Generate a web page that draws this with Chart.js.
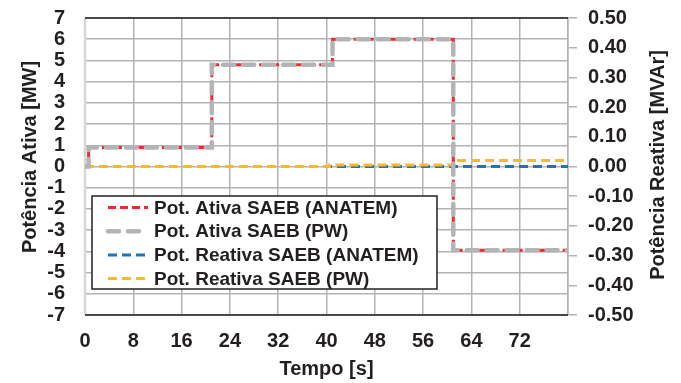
<!DOCTYPE html>
<html>
<head>
<meta charset="utf-8">
<script src="https://cdn.jsdelivr.net/npm/chart.js@4.4.1/dist/chart.umd.min.js"></script>
<style>
html, body { margin: 0; padding: 0; background: #fff; }
#wrap { width: 681px; height: 383px; }
</style>
</head>
<body>
<div id="wrap"><canvas id="grafico"></canvas></div>
<script>
var tempo_ativa = [0, 0.6, 21, 41, 61, 80];
var ativa_anatem = [0, 0.9, 4.8, 6.0, -3.95, -3.95];
var ativa_pw = [0, 0.9, 4.8, 6.0, -3.95, -3.95];
var tempo_reat_anatem = [0, 80];
var reativa_anatem = [0, 0];
var tempo_reat_pw = [0, 40.5, 61, 80];
var reativa_pw = [0, 0.005, 0.02, 0.02];
var nomes = ['Pot. Ativa SAEB (ANATEM)', 'Pot. Ativa SAEB (PW)', 'Pot. Reativa SAEB (ANATEM)', 'Pot. Reativa SAEB (PW)'];
var titulo_x = 'Tempo [s]';
var titulo_y = 'Potência Ativa [MW]';
var titulo_y1 = 'Potência Reativa [MVAr]';

var texto = '#231f20';
var grade = '#b3b3b3';
var fonte = 'Liberation Sans, Arial, sans-serif';

function pontos(tx, ty) {
    let out = [];
    for (let i = 0; i < tx.length; i++) {
        out.push({ x: tx[i], y: ty[i] });
    }
    return out;
}

// largura fixa do eixo vertical, sem folga extra em cima/embaixo
function fixa_largura(w) {
    return function (s) {
        s.width = w;
        s.paddingTop = 0;
        s.paddingBottom = 0;
    };
}

// moldura da area do grafico
var moldura = {
    id: 'moldura',
    beforeDatasetsDraw(chart) {
        let a = chart.chartArea;
        let ctx = chart.ctx;
        ctx.save();
        ctx.strokeStyle = '#d6d6d6';
        ctx.lineWidth = 2.5;
        ctx.beginPath();
        ctx.moveTo(a.left, a.top);
        ctx.lineTo(a.left, a.bottom);
        ctx.stroke();
        ctx.strokeStyle = texto;
        ctx.lineWidth = 1.5;
        ctx.beginPath();
        ctx.moveTo(a.left, a.top);
        ctx.lineTo(a.right, a.top);
        ctx.moveTo(a.left, a.bottom);
        ctx.lineTo(a.right, a.bottom);
        ctx.stroke();
        ctx.restore();
    }
};

// titulos verticais (ambos lidos de baixo para cima) e legenda
var extras = {
    id: 'extras',
    afterDraw(chart) {
        let ctx = chart.ctx;
        ctx.save();
        ctx.fillStyle = texto;
        ctx.font = 'bold 20px ' + fonte;
        ctx.textAlign = 'center';
        ctx.textBaseline = 'middle';
        [[30, 157, titulo_y], [658, 165, titulo_y1]].forEach(function (t) {
            ctx.save();
            ctx.translate(t[0], t[1]);
            ctx.rotate(-Math.PI / 2);
            ctx.fillText(t[2], 0, 0);
            ctx.restore();
        });

        // caixa da legenda
        let bx = 92, by = 196, bw = 345, bh = 93;
        ctx.fillStyle = '#fff';
        ctx.fillRect(bx, by, bw, bh);
        ctx.strokeStyle = texto;
        ctx.lineWidth = 1.5;
        ctx.strokeRect(bx, by, bw, bh);
        ctx.font = 'bold 19px ' + fonte;
        ctx.textAlign = 'left';
        chart.data.datasets.forEach(function (ds, i) {
            let y = by + 11.5 + i * 23.7;
            ctx.save();
            ctx.strokeStyle = ds.borderColor;
            ctx.lineWidth = ds.borderWidth;
            ctx.lineCap = ds.borderCapStyle || 'butt';
            ctx.setLineDash(ds.borderDash);
            ctx.beginPath();
            ctx.moveTo(bx + 16, y);
            ctx.lineTo(bx + 56, y);
            ctx.stroke();
            ctx.restore();
            ctx.fillStyle = texto;
            ctx.fillText(ds.label, bx + 62, y + 1);
        });
        ctx.restore();
    }
};

var fonte_ticks = { family: fonte, size: 20, weight: 'bold' };

var chart = new Chart(document.getElementById('grafico'), {
    type: 'line',
    data: {
        datasets: [
            {
                label: nomes[0],
                data: pontos(tempo_ativa, ativa_anatem),
                yAxisID: 'y',
                borderColor: '#ee2a2e',
                borderWidth: 3,
                borderDash: [8, 4],
                stepped: true,
                pointRadius: 0,
                fill: false,
                order: 1
            },
            {
                label: nomes[1],
                data: pontos(tempo_ativa, ativa_pw),
                yAxisID: 'y',
                borderColor: '#b4b4b6',
                borderWidth: 4.5,
                borderDash: [11, 9],
                borderCapStyle: 'round',
                stepped: true,
                pointRadius: 0,
                fill: false,
                order: 0
            },
            {
                label: nomes[2],
                data: pontos(tempo_reat_anatem, reativa_anatem),
                yAxisID: 'y1',
                borderColor: '#1b75bb',
                borderWidth: 3,
                borderDash: [9, 5],
                stepped: true,
                pointRadius: 0,
                fill: false,
                order: 3
            },
            {
                label: nomes[3],
                data: pontos(tempo_reat_pw, reativa_pw),
                yAxisID: 'y1',
                borderColor: '#fbb828',
                borderWidth: 3,
                borderDash: [9, 5],
                stepped: true,
                pointRadius: 0,
                fill: false,
                order: 2
            }
        ]
    },
    options: {
        responsive: true,
        maintainAspectRatio: false,
        animation: false,
        layout: { padding: { top: 18, left: 0, right: 0, bottom: 0 } },
        plugins: {
            legend: { display: false },
            tooltip: { enabled: false }
        },
        scales: {
            x: {
                type: 'linear',
                min: 0,
                max: 80,
                afterFit(s) { s.height = 68; },
                ticks: {
                    stepSize: 8,
                    autoSkip: false,
                    maxRotation: 0,
                    padding: 14,
                    color: texto,
                    font: fonte_ticks,
                    callback: v => (v === 80 ? '' : v)
                },
                grid: { color: grade, lineWidth: 1.5, drawTicks: false },
                border: { display: false },
                title: {
                    display: true,
                    text: titulo_x,
                    color: texto,
                    font: fonte_ticks,
                    padding: { top: 0, bottom: 2 }
                }
            },
            y: {
                position: 'left',
                min: -7,
                max: 7,
                afterFit: fixa_largura(85),
                ticks: { stepSize: 1, autoSkip: false, padding: 20, color: texto, font: fonte_ticks },
                grid: { color: grade, lineWidth: 1.5, drawTicks: false },
                border: { display: false }
            },
            y1: {
                position: 'right',
                min: -0.5,
                max: 0.5,
                afterFit: fixa_largura(113),
                ticks: {
                    stepSize: 0.1,
                    autoSkip: false,
                    padding: 11,
                    color: texto,
                    font: fonte_ticks,
                    callback: v => (Math.abs(v) < 1e-9 ? '0.00' : v.toFixed(2))
                },
                grid: { drawOnChartArea: false, drawTicks: true, tickLength: 9, color: grade, lineWidth: 1.5 },
                border: { display: true, color: grade, width: 1.5 }
            }
        }
    },
    plugins: [moldura, extras]
});
</script>
</body>
</html>
